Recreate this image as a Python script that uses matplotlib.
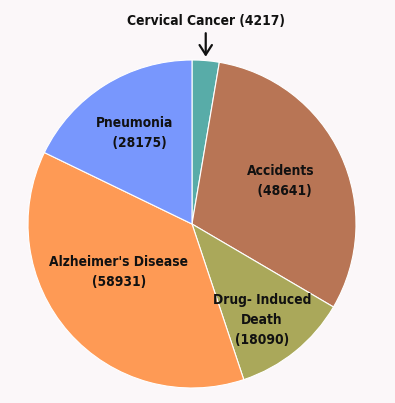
import numpy as np
import matplotlib
matplotlib.use("Agg")
import matplotlib.pyplot as plt

# data
causes = ["Cervical Cancer", "Accidents", "Drug- Induced\nDeath", "Alzheimer's Disease", "Pneumonia"]
deaths = [4217, 48641, 18090, 58931, 28175]
colors = ["#58aca8", "#b87555", "#aaa85a", "#fe9a55", "#7897fd"]
# label placement: radius (fraction of pie radius) and angle nudge from the slice middle
label_r = [None, 0.60, 0.725, 0.535, 0.655]
label_dang = [0, 1, -3, -8, 0]
# leading spaces on the value line (the original labels are not quite centred)
value_pad = [0, 2, 0, 0, 2]

bg = "#fbf7f9"
font = ["DejaVu Sans"]
fsize = 9.9

fig = plt.figure(figsize=(3.95, 4.03), dpi=100, facecolor=bg)
W, H = 395, 403
cx, cy, R = 192, 403 - 224, 164
ax = fig.add_axes([(cx - R) / W, (cy - R) / H, 2 * R / W, 2 * R / H])
ax.set_facecolor(bg)

wedges, _ = ax.pie(deaths, colors=colors, startangle=90, counterclock=False,
                   radius=1, wedgeprops=dict(edgecolor="white", linewidth=0.8))
ax.set_xlim(-1, 1)
ax.set_ylim(-1, 1)
ax.set_aspect("equal")
ax.axis("off")

for w, name, val, r, da, pad in zip(wedges, causes, deaths, label_r, label_dang, value_pad):
    if r is None:
        continue
    ang = np.deg2rad((w.theta1 + w.theta2) / 2 + da)
    ax.text(r * np.cos(ang), r * np.sin(ang), f"{name}\n{' ' * pad}({val})",
            ha="center", va="center", fontsize=fsize, fontweight="bold",
            fontstretch="condensed", family=font, linespacing=1.55,
            color="#111111")

# small slice gets a label above with an arrow
w = wedges[0]
ang = np.deg2rad((w.theta1 + w.theta2) / 2)
x0 = np.cos(ang)
ax.annotate(f"{causes[0]} ({deaths[0]})", xy=(x0, 1.02), xytext=(x0, 1.24),
            ha="center", va="center", fontsize=fsize, fontweight="bold",
            fontstretch="condensed", family=font, color="#111111",
            annotation_clip=False,
            arrowprops=dict(arrowstyle="->,head_length=0.7,head_width=0.45",
                            color="#111111", lw=1.6, shrinkA=2, shrinkB=0))

fig.savefig("out.png", dpi=100, facecolor=bg)
